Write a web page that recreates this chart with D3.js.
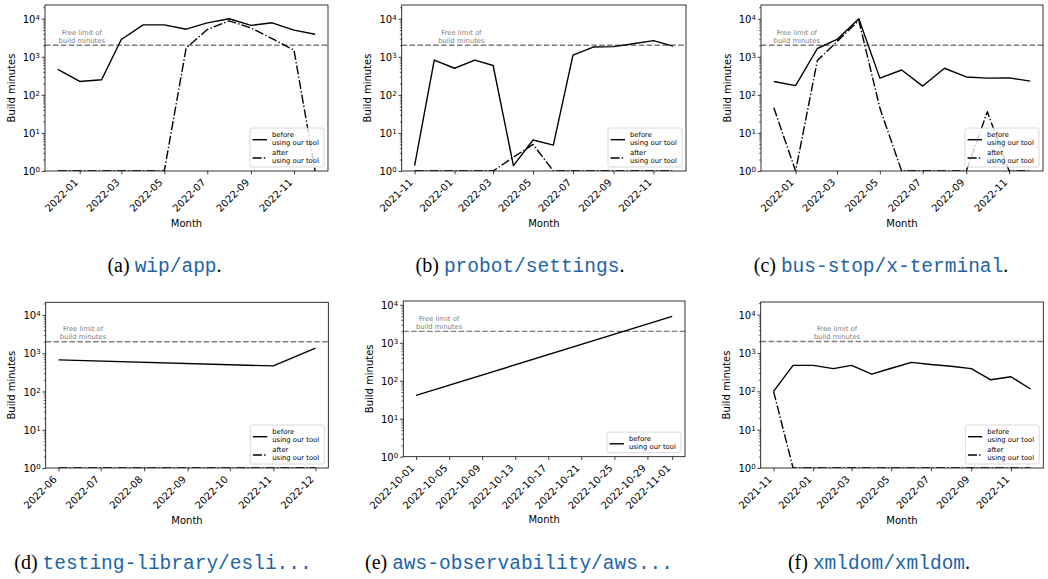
<!DOCTYPE html>
<html><head><meta charset="utf-8">
<script src="https://cdn.jsdelivr.net/npm/d3@7"></script>
<style>body{margin:0;background:#fff}svg{display:block}</style>
</head><body>
<svg id="chart" width="1048" height="579"></svg>
<script>
// ---------------- data ----------------
const monthsDec = ["2021-12","2022-01","2022-02","2022-03","2022-04","2022-05","2022-06","2022-07","2022-08","2022-09","2022-10","2022-11","2022-12"];
const monthsNov = ["2021-11","2021-12","2022-01","2022-02","2022-03","2022-04","2022-05","2022-06","2022-07","2022-08","2022-09","2022-10","2022-11","2022-12"];
const monthsD = ["2022-06","2022-11","2022-12"];
const daysE = ["2022-10-01","2022-11-01"];

const beforeA = [465,225,250,2850,6900,6900,5300,7800,10000,6700,7800,5000,3900];
const afterA  = [1,1,1,1,1,1,1700,5200,8800,5700,3000,1500,1];
const beforeB = [1.38,820,500,820,590,1.38,6.5,4.8,1100,1800,1850,2200,2650,1900];
const afterB  = [1,1,1,1,1,2.3,5,1,1,1,1,1,1,1];
const beforeC = [225,175,1650,2850,10000,275,450,170,500,295,275,280,230];
const afterC  = [46,1,800,2500,9000,45,1,1,1,1,36,1,1];
const beforeD = [670,465,1350];
const afterD  = [1,1,1];
const beforeE = [41,4950];
const beforeF = [100,475,475,390,475,280,400,570,500,450,390,200,240,115];
const afterF  = [100,1,1,1,1,1,1,1,1,1,1,1,1,1];

const ticksTwoMonth = ["2022-01","2022-03","2022-05","2022-07","2022-09","2022-11"];
const ticksTwoMonthNov = ["2021-11","2022-01","2022-03","2022-05","2022-07","2022-09","2022-11"];
const ticksD = ["2022-06","2022-07","2022-08","2022-09","2022-10","2022-11","2022-12"];
const ticksE = ["2022-10-01","2022-10-05","2022-10-09","2022-10-13","2022-10-17","2022-10-21","2022-10-25","2022-10-29","2022-11-01"];
const yMajorTicks = [1,10,100,1000,10000];

const freeLimit = 2000;
const captionTags = ["(a)","(b)","(c)","(d)","(e)","(f)"];
const captionNames = ["wip/app","probot/settings","bus-stop/x-terminal","testing-library/esli...","aws-observability/aws...","xmldom/xmldom"];
const captionDots = [".",".",".","","","."];
const legendBefore = ["before","using our tool"];
const legendAfter = ["after","using our tool"];

// ---------------- layout ----------------
const panels = [
  {dates:monthsDec, before:beforeA, after:afterA, ticks:ticksTwoMonth, fmt:"%Y-%m", box:[45,5,328,171], yTop:4.36, labelFrac:0.13, cap:[164.5,272]},
  {dates:monthsNov, before:beforeB, after:afterB, ticks:ticksTwoMonthNov, fmt:"%Y-%m", box:[401.7,5,686,171], yTop:4.36, labelFrac:0.21, cap:[520,272]},
  {dates:monthsDec, before:beforeC, after:afterC, ticks:ticksTwoMonth, fmt:"%Y-%m", box:[761,5,1043,171], yTop:4.36, labelFrac:0.127, cap:[881,272]},
  {dates:monthsD, before:beforeD, after:afterD, ticks:ticksD, fmt:"%Y-%m", box:[45.7,302.3,328.3,468], yTop:4.33, labelFrac:0.132, cap:[163,569]},
  {dates:daysE, before:beforeE, after:null, ticks:ticksE, fmt:"%Y-%m-%d", box:[403.3,301,685,456.7], yTop:4.1, labelFrac:0.127, cap:[519,569]},
  {dates:monthsNov, before:beforeF, after:afterF, ticks:ticksTwoMonthNov, fmt:"%Y-%m", box:[760.7,302,1043.3,468], yTop:4.33, labelFrac:0.27, cap:[879,569]}
];

const FONT = "'DejaVu Sans', sans-serif";
const svg = d3.select("#chart");
const DASHDOT = "9,2.2,1.4,2.2";

panels.forEach((p, i) => {
  const [L,T,R,B] = p.box;
  const parse = d3.utcParse(p.fmt);
  const dates = p.dates.map(parse);
  const ext = d3.extent(dates);
  const span = ext[1] - ext[0];
  const x = d3.scaleUtc().domain([new Date(+ext[0] - 0.05*span), new Date(+ext[1] + 0.05*span)]).range([L, R]);
  const y = d3.scaleLog().domain([1, Math.pow(10, p.yTop)]).range([B, T]);
  const g = svg.append("g");

  const clipId = "clip" + i;
  svg.append("clipPath").attr("id", clipId).append("rect")
    .attr("x", L).attr("y", T).attr("width", R - L).attr("height", B - T);

  // free limit line
  g.append("line").attr("x1", L).attr("x2", R).attr("y1", y(freeLimit)).attr("y2", y(freeLimit))
    .attr("stroke", "#808080").attr("stroke-width", 1.4).attr("stroke-dasharray", "5.5,2.4");
  const lx = L + p.labelFrac * (R - L);
  const lt = g.append("text").attr("font-family", FONT).attr("font-size", 6.8).attr("fill", "#808080")
    .attr("text-anchor", "middle");
  lt.append("tspan").attr("x", lx).attr("y", y(freeLimit) - 10.2).text("Free limit of");
  lt.append("tspan").attr("x", lx).attr("y", y(freeLimit) - 2.3).text("build minutes");

  // series
  const line = d3.line().x(d => x(d[0])).y(d => y(d[1]));
  const series = [{vals:p.before, dash:null}];
  if (p.after) series.push({vals:p.after, dash:DASHDOT});
  series.forEach(s => {
    g.append("path").attr("clip-path", `url(#${clipId})`)
      .attr("d", line(dates.map((d, k) => [d, s.vals[k]])))
      .attr("fill", "none").attr("stroke", "#000").attr("stroke-width", 1.4)
      .attr("stroke-dasharray", s.dash).attr("stroke-linejoin", "round");
  });

  // y axis major
  const ya = g.append("g").attr("transform", `translate(${L},0)`)
    .call(d3.axisLeft(y).tickValues(yMajorTicks).tickSize(3.3).tickPadding(1.8).tickFormat(() => ""));
  ya.select(".domain").remove();
  ya.selectAll(".tick line").attr("stroke-width", 0.75);
  ya.selectAll(".tick text").each(function(d) {
    const t = d3.select(this).attr("font-family", FONT).attr("font-size", 10).attr("fill", "#000").attr("dy", "0.36em");
    t.append("tspan").text("10");
    t.append("tspan").attr("dy", "-0.42em").attr("font-size", "7px").text(Math.round(Math.log10(d)));
  });
  // y axis minor
  const minors = [];
  for (let e = 0; e < 5; e++) for (let m = 2; m <= 9; m++) { const v = m * Math.pow(10, e); if (v <= Math.pow(10, p.yTop)) minors.push(v); }
  const ym = g.append("g").attr("transform", `translate(${L},0)`)
    .call(d3.axisLeft(y).tickValues(minors).tickSize(1.9).tickFormat(() => ""));
  ym.select(".domain").remove();
  ym.selectAll(".tick line").attr("stroke-width", 0.6);

  // x axis
  const tickDates = p.ticks.map(parse);
  const fmt = d3.utcFormat(p.fmt);
  const xa = g.append("g").attr("transform", `translate(0,${B})`)
    .call(d3.axisBottom(x).tickValues(tickDates).tickSize(3.3).tickFormat(fmt));
  xa.select(".domain").remove();
  xa.selectAll(".tick line").attr("stroke-width", 0.75);
  xa.selectAll(".tick text").attr("font-family", FONT).attr("font-size", 10).attr("fill", "#000")
    .attr("text-anchor", "end").attr("x", 0).attr("y", 0).attr("dy", 0)
    .attr("transform", "translate(-1.5,12) rotate(-45)");

  // spines
  g.append("rect").attr("x", L).attr("y", T).attr("width", R - L).attr("height", B - T)
    .attr("fill", "none").attr("stroke", "#000").attr("stroke-width", 0.8);

  // axis labels
  g.append("text").attr("font-family", FONT).attr("font-size", 10).attr("text-anchor", "middle")
    .attr("transform", `translate(${L - 30.5},${(T + B) / 2}) rotate(-90)`).text("Build minutes");
  const xlabOff = p.fmt === "%Y-%m-%d" ? 66.5 : 55.5;
  g.append("text").attr("font-family", FONT).attr("font-size", 10).attr("text-anchor", "middle")
    .attr("x", (L + R) / 2).attr("y", B + xlabOff).text("Month");

  // legend
  const entries = [{lab:legendBefore, dash:null}];
  if (p.after) entries.push({lab:legendAfter, dash:DASHDOT});
  const lw = 74, lh = entries.length === 2 ? 39 : 20.6;
  const lxr = R - 4, lyb = B - 4;
  const lg = g.append("g").attr("transform", `translate(${lxr - lw},${lyb - lh})`);
  lg.append("rect").attr("width", lw).attr("height", lh).attr("rx", 2)
    .attr("fill", "#fff").attr("fill-opacity", 0.8).attr("stroke", "#cccccc").attr("stroke-width", 0.75);
  entries.forEach((e, k) => {
    const oy = k * 18.3;
    lg.append("line").attr("x1", 2.6).attr("x2", 17).attr("y1", oy + 11.7).attr("y2", oy + 11.7)
      .attr("stroke", "#000").attr("stroke-width", 1.4).attr("stroke-dasharray", e.dash);
    const t = lg.append("text").attr("font-family", FONT).attr("font-size", 6.8).attr("fill", "#000");
    t.append("tspan").attr("x", 22).attr("y", oy + 9).text(e.lab[0]);
    t.append("tspan").attr("x", 22).attr("y", oy + 17).text(e.lab[1]);
  });

  // caption
  const cap = svg.append("text").attr("x", p.cap[0]).attr("y", p.cap[1]).attr("text-anchor", "middle");
  cap.append("tspan").attr("font-family", "'Liberation Serif', serif").attr("font-size", 20).attr("fill", "#000").text(captionTags[i] + " ");
  cap.append("tspan").attr("font-family", "'Liberation Mono', monospace").attr("font-size", 19.5).attr("fill", "#1d64a6").text(captionNames[i]);
  if (captionDots[i]) cap.append("tspan").attr("font-family", "'Liberation Serif', serif").attr("font-size", 20).attr("fill", "#000").text(captionDots[i]);
});
</script>
</body></html>
